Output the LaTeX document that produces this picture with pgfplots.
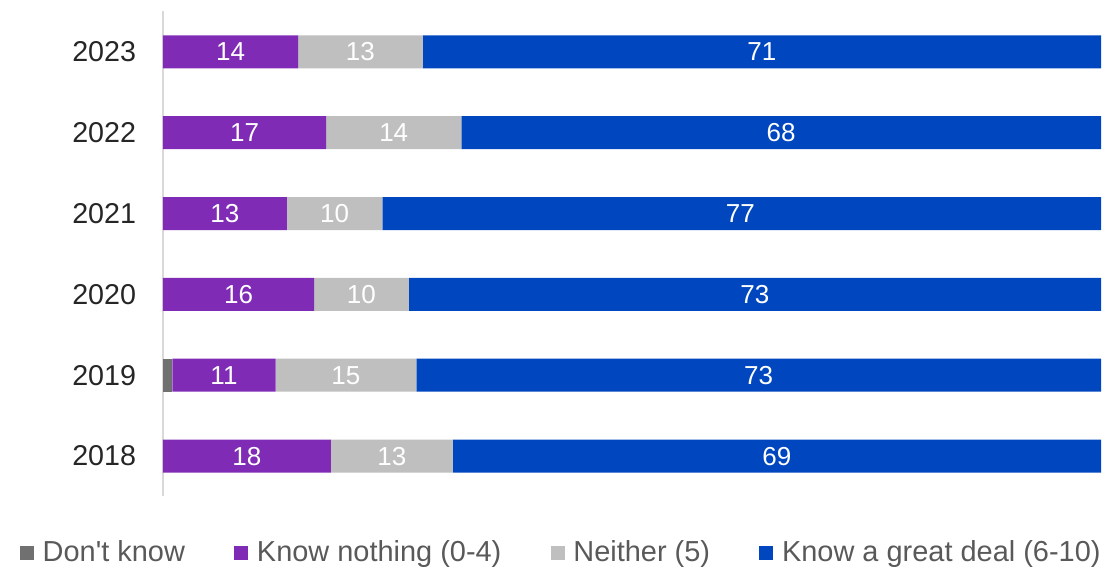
\documentclass[border=0pt]{standalone}
\usepackage{fontspec}
\setmainfont{Liberation Sans}
\usepackage{pgfplots}
\usepackage{pgfplotstable}
\pgfplotsset{compat=1.18}
\definecolor{cdk}{HTML}{707070}
\definecolor{ckn}{HTML}{7F2BB6}
\definecolor{cne}{HTML}{BFBFBF}
\definecolor{ckg}{HTML}{0047BF}
\definecolor{axisgray}{HTML}{D9D9D9}
\definecolor{legtext}{HTML}{595959}
\definecolor{ticktext}{HTML}{262626}

% share widths of each segment (per cent of bar length)
\pgfplotstableread{
y dk kn ne kg
0 0 17.9 13.0 69.1
1 1.0 11.0 15.0 73.0
2 0 16.1 10.1 73.8
3 0 13.2 10.2 76.6
4 0 17.4 14.4 68.2
5 0 14.4 13.3 72.3
}\shares

% printed labels at the middle of each segment
\pgfplotstableread{
x y l
8.95 0 18
24.4 0 13
65.45 0 69
6.5 1 11
19.5 1 15
63.5 1 73
8.05 2 16
21.15 2 10
63.1 2 73
6.6 3 13
18.3 3 10
61.55 3 77
8.7 4 17
24.6 4 14
65.9 4 68
7.2 5 14
21.05 5 13
63.85 5 71
}\labels

\begin{document}
\begin{tikzpicture}
\useasboundingbox (-122.25pt,-52.9pt) rectangle (709.5pt,372.35pt);
\begin{axis}[
  at={(0,0)}, anchor=south west,
  scale only axis, width=703.5pt, height=363.75pt,
  xbar stacked, bar width=24.75pt,
  xmin=0, xmax=100, ymin=-0.5, ymax=5.5,
  axis x line=none, axis y line*=left,
  axis line style={axisgray, line width=1.5pt},
  ytick={0,1,2,3,4,5},
  yticklabels={2018,2019,2020,2021,2022,2023},
  major tick length=0pt,
  yticklabel style={font=\fontsize{21.5}{25}\selectfont, text=ticktext, inner sep=0pt, xshift=-20pt},
  /pgf/number format/assume math mode=true,
  legend columns=4,
  legend style={at={(0.425,-0.115)}, anchor=center, draw=none, fill=none,
    font=\fontsize{21.7}{25}\selectfont, text=legtext,
    /tikz/every even column/.append style={column sep=35pt}},
  legend image code/.code={\draw[#1,draw=none] (0pt,-6pt) rectangle (10.5pt,4.5pt);\path (15pt,0pt);},
]
\addplot[fill=cdk, draw=none] table[x=dk, y=y] {\shares};
\addplot[fill=ckn, draw=none] table[x=kn, y=y] {\shares};
\addplot[fill=cne, draw=none] table[x=ne, y=y] {\shares};
\addplot[fill=ckg, draw=none] table[x=kg, y=y] {\shares};
\legend{Don\textquotesingle t know, Know nothing (0-4), Neither (5), Know a great deal (6-10)}
\end{axis}
\begin{axis}[
  at={(0,0)}, anchor=south west,
  scale only axis, width=703.5pt, height=363.75pt,
  xmin=0, xmax=100, ymin=-0.5, ymax=5.5,
  hide axis,
]
\addplot[draw=none, mark=none, nodes near coords, point meta=explicit symbolic,
  every node near coord/.append style={anchor=center, text=white, font=\fontsize{19.5}{22}\selectfont, inner sep=0pt}]
  table[x=x, y=y, meta=l] {\labels};
\end{axis}
\end{tikzpicture}
\end{document}
